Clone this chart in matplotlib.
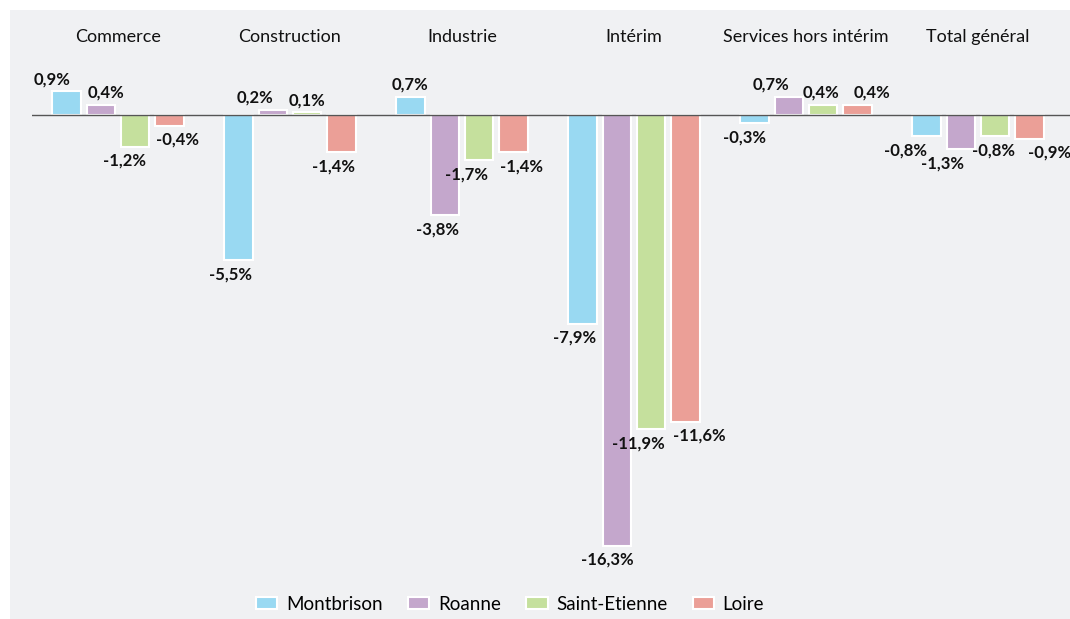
import numpy as np
import matplotlib.pyplot as plt
from matplotlib.patches import Rectangle

# secteurs et zones
secteurs = ['Commerce', 'Construction', 'Industrie', 'Intérim',
            'Services hors intérim', 'Total général']
zones = ['Montbrison', 'Roanne', 'Saint-Etienne', 'Loire']

# évolution en % par zone
montbrison = [0.9, -5.5, 0.7, -7.9, -0.3, -0.8]
roanne = [0.4, 0.2, -3.8, -16.3, 0.7, -1.3]
saint_etienne = [-1.2, 0.1, -1.7, -11.9, 0.4, -0.8]
loire = [-0.4, -1.4, -1.4, -11.6, 0.4, -0.9]

series = [montbrison, roanne, saint_etienne, loire]
couleurs = ['#99d9f2', '#c4a7cc', '#c5e09d', '#eb9f97']

# petits décalages horizontaux des étiquettes (pixels), comme dans l'original
decal = [
    [-14, -8, 0, -8, -10, -21],
    [5, -18, -7, -9, -18, -18],
    [-11, 0, -13, -13, -2, -2],
    [8, -8, 8, 14, 14, 20],
]

plt.rcParams['font.family'] = ['Lato', 'DejaVu Sans']

W, H = 1070, 619
fig = plt.figure(figsize=(W / 100, H / 100), dpi=100)
fig.patch.set_facecolor('white')
fig.add_artist(Rectangle((10 / W, 0), 1, 1 - 10 / H, transform=fig.transFigure,
                         facecolor='#f0f1f3', edgecolor='none', zorder=0))

ax = fig.add_axes([32 / W, 1 - 580 / H, (1070 - 32) / W, 570 / H])
ax.set_facecolor('none')

x = np.arange(len(secteurs))
larg = 0.2
for k, (vals, col, nom) in enumerate(zip(series, couleurs, zones)):
    pos = x + (k - 1.5) * larg
    ax.bar(pos, vals, width=0.165, color=col, edgecolor='white', linewidth=1.5,
           label=nom, zorder=2)
    for xi, v, dx in zip(pos, vals, decal[k]):
        txt = f'{v:.1f}%'.replace('.', ',')
        if v >= 0:
            ax.annotate(txt, (xi, v), xytext=(dx, 4), textcoords='offset pixels',
                        ha='center', va='bottom', fontsize=12, fontweight='bold',
                        color='#111111', annotation_clip=False)
        else:
            ax.annotate(txt, (xi, v), xytext=(dx, -6), textcoords='offset pixels',
                        ha='center', va='top', fontsize=12, fontweight='bold',
                        color='#111111', annotation_clip=False)

for xi, s in zip(x, secteurs):
    ax.text(xi, 2.95, s, ha='center', va='center', fontsize=13, color='#111111')

ax.axhline(0, color='#555555', linewidth=1, zorder=3)
ax.set_xlim(-0.5, 5.535)
ax.set_ylim(-17.6, 3.98)
ax.axis('off')

fig.legend(loc='center', bbox_to_anchor=(510 / W, 1 - 604 / H), ncol=4,
           frameon=False, fontsize=13.5, handlelength=1.15, handleheight=0.64,
           columnspacing=1.35, handletextpad=0.45)

fig.savefig('out.png', dpi=100, facecolor=fig.get_facecolor())
